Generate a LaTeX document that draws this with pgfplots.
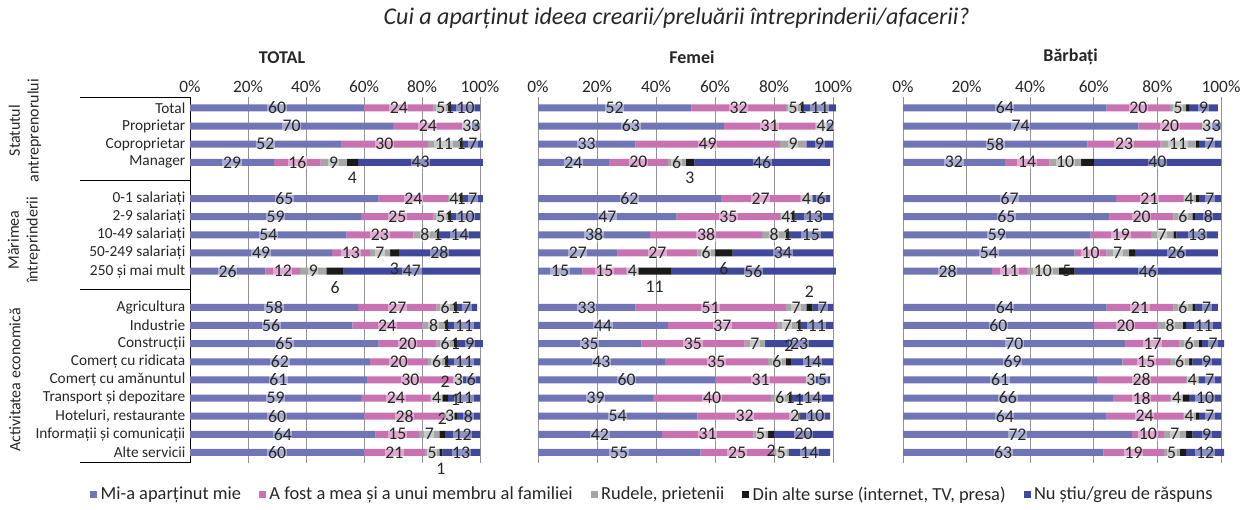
\documentclass[border=0pt]{standalone}
\usepackage{fontspec}
\setmainfont{Carlito}
\usepackage{pgfplots}
\usepackage{pgfplotstable}
\pgfplotsset{compat=1.18}
\definecolor{c1}{RGB}{112,117,182}
\definecolor{c2}{RGB}{200,114,178}
\definecolor{c3}{RGB}{166,166,166}
\definecolor{c4}{RGB}{26,26,26}
\definecolor{c5}{RGB}{64,72,156}
\definecolor{labtext}{RGB}{38,38,38}

\pgfplotstableread{
y a b c d e bd
0 60 24 5 1 10 0
1 70 24 3 0 3 0
2 52 30 11 1 7 0
3 29 16 9 4 43 -1
5 65 24 4 1 7 0
6 59 25 5 1 10 0
7 54 23 8 1 14 0
8 49 13 7 3 28 -1
9 26 12 9 6 47 -1
11 58 27 6 1 7 0
12 56 24 8 1 11 0
13 65 20 6 1 9 0
14 62 20 6 1 11 0
15 61 30 3 0 6 0
16 59 24 4 2 11 1
17 60 28 3 1 8 1
18 64 15 7 2 12 1
19 60 21 5 1 13 -1
}\ttot

\pgfplotstableread{
y a b c d e bd
0 52 32 5 1 11 0
1 63 31 4 0 2 0
2 33 49 9 0 9 0
3 24 20 6 3 46 -1
5 62 27 4 0 6 0
6 47 35 4 1 13 0
7 38 38 8 1 15 0
8 27 27 6 6 34 -1
9 15 15 4 11 56 -1
11 33 51 7 2 7 1
12 44 37 7 1 11 0
13 35 35 7 0 23 0
14 43 35 6 2 14 1
15 60 31 3 0 5 0
16 39 40 6 1 14 0
17 54 32 2 1 10 1
18 42 31 5 2 20 -1
19 55 25 5 0 14 0
}\tfem

\pgfplotstableread{
y a b c d e bd
0 64 20 5 1 9 9
1 74 20 3 0 3 9
2 58 23 11 1 7 9
3 32 14 10 4 40 9
5 67 21 4 1 7 9
6 65 20 6 1 8 9
7 59 19 7 1 13 9
8 54 10 7 2 26 9
9 28 11 10 5 46 0
11 64 21 6 1 7 9
12 60 20 8 1 11 9
13 70 17 6 1 7 9
14 69 15 6 1 9 9
15 61 28 4 0 7 9
16 66 18 4 2 10 9
17 64 24 4 1 7 9
18 72 10 7 2 9 9
19 63 19 5 2 12 9
}\tbar

\newcommand{\lblfont}{\fontsize{13.3}{13.3}\selectfont}

\pgfplotsset{
  /pgf/number format/assume math mode=true,
  seg/.style={
    fill=#1, draw=none, forget plot,
    visualization depends on=rawx \as \rawx,
    nodes near coords={\pgfmathprintnumber{\rawx}},
    every node near coord/.append style={anchor=center,
      font=\lblfont, text=labtext, fill=white, fill opacity=0.4, text opacity=1, inner sep=0.5pt},
  },
  segd/.style={
    fill=c4, draw=none, forget plot,
    point meta=explicit symbolic,
    visualization depends on=rawx \as \rawx,
    nodes near coords={\ifnum\pgfplotspointmeta=9 \else\pgfmathprintnumber{\rawx}\fi},
    every node near coord/.append style={anchor=center, yshift={\pgfplotspointmeta*12pt},
      font=\lblfont, text=labtext, inner sep=0.5pt},
  },
  legsq/.style={legend image code/.code={\fill[##1] (0pt,-2.65pt) rectangle (5.3pt,2.65pt);}},
  panel/.style={
    xbar stacked, bar width=5.25pt,
    y=13.6pt, y dir=reverse,
    xmin=0, xmax=100, ymin=-0.6, ymax=19.56,
    xtick={0,20,...,100},
    xticklabel={\pgfmathprintnumber{\tick}\%},
    xticklabel pos=upper,
    xmajorgrids, major grid style={draw=gray!85, line width=0.6pt},
    major tick length=0pt,
    axis line style={draw=none},
    ticklabel style={font=\fontsize{13}{14}\selectfont, text=labtext},
    clip=false,
    anchor=north west,
  },
}

\begin{document}
\begin{tikzpicture}
\useasboundingbox (0,0) rectangle (942pt,-382.5pt);

\node[font=\fontsize{18}{20}\selectfont\itshape, text=labtext] at (507.5pt,-13.5pt) {Cui a aparținut ideea crearii/preluării întreprinderii/afacerii?};
\node[font=\bfseries\fontsize{13.5}{15}\selectfont, text=labtext] at (211.5pt,-43pt) {TOTAL};
\node[font=\bfseries\fontsize{13.5}{15}\selectfont, text=labtext] at (519pt,-43pt) {Femei};
\node[font=\bfseries\fontsize{13.5}{15}\selectfont, text=labtext] at (803pt,-43pt) {Bărbați};

\node[rotate=90, align=center, font=\fontsize{12}{14}\selectfont, text=labtext] at (18.75pt,-98pt) {Statutul\\antreprenorului};
\node[rotate=90, align=center, font=\fontsize{12}{14}\selectfont, text=labtext] at (18pt,-180pt) {Mărimea\\întreprinderii};
\node[rotate=90, align=center, font=\fontsize{12}{14}\selectfont, text=labtext] at (11.25pt,-285pt) {Activitatea economică};

% TOTAL
\begin{axis}[panel, x=2.175pt, at={(142.5pt,-72.75pt)},
  ytick={0,1,2,3,5,6,7,8,9,11,12,13,14,15,16,17,18,19},
  yticklabels={Total,Proprietar,Coproprietar,Manager,0-1 salariați,2-9 salariați,10-49 salariați,50-249 salariați,250 și mai mult,Agricultura,Industrie,Construcții,Comerț cu ridicata,Comerț cu amănuntul,Transport și depozitare,{Hoteluri, restaurante},Informații și comunicații,Alte servicii},
  yticklabel style={font=\fontsize{11.5}{12}\selectfont, text=labtext},
]
\addplot[seg=c1] table[x=a,y=y]{\ttot};
\addplot[seg=c2] table[x=b,y=y]{\ttot};
\addplot[seg=c3] table[x=c,y=y]{\ttot};
\addplot[segd] table[x=d,y=y,meta=bd]{\ttot};
\addplot[seg=c5] table[x=e,y=y]{\ttot};
\draw[black, line width=0.75pt] (axis cs:0,-0.6) -- (axis cs:0,19.56);
\draw[black, line width=0.75pt] (axis cs:-37.93,-0.6) -- (axis cs:0,-0.6);
\draw[black, line width=0.75pt] (axis cs:-37.93,4) -- (axis cs:0,4);
\draw[black, line width=0.75pt] (axis cs:-37.93,10) -- (axis cs:0,10);
\draw[black, line width=0.75pt] (axis cs:-37.93,19.56) -- (axis cs:0,19.56);
\end{axis}

% Femei
\begin{axis}[panel, x=2.2125pt, at={(403.5pt,-72.75pt)}, ytick=\empty,
  legend columns=5,
  legend style={at={(axis description cs:0.39,-0.087)}, anchor=center, draw=none, fill=none,
    font=\fontsize{13.8}{14}\selectfont, text=labtext, inner sep=0pt,
    nodes={inner sep=2.5pt},
    /tikz/every even column/.append style={column sep=11pt}},
  legend cell align=left,
]
\addplot[seg=c1] table[x=a,y=y]{\tfem};
\addplot[seg=c2] table[x=b,y=y]{\tfem};
\addplot[seg=c3] table[x=c,y=y]{\tfem};
\addplot[segd] table[x=d,y=y,meta=bd]{\tfem};
\addplot[seg=c5] table[x=e,y=y]{\tfem};
\addlegendimage{legsq, fill=c1, draw=none}
\addlegendentry{Mi-a aparținut mie}
\addlegendimage{legsq, fill=c2, draw=none}
\addlegendentry{A fost a mea și a unui membru al familiei}
\addlegendimage{legsq, fill=c3, draw=none}
\addlegendentry{Rudele, prietenii}
\addlegendimage{legsq, fill=c4, draw=none}
\addlegendentry{Din alte surse (internet, TV, presa)}
\addlegendimage{legsq, fill=c5, draw=none}
\addlegendentry{Nu știu/greu de răspuns}
\end{axis}

% Barbati
\begin{axis}[panel, x=2.385pt, at={(677.25pt,-72.75pt)}, ytick=\empty]
\addplot[seg=c1] table[x=a,y=y]{\tbar};
\addplot[seg=c2] table[x=b,y=y]{\tbar};
\addplot[seg=c3] table[x=c,y=y]{\tbar};
\addplot[segd] table[x=d,y=y,meta=bd]{\tbar};
\addplot[seg=c5] table[x=e,y=y]{\tbar};
\end{axis}
\end{tikzpicture}
\end{document}
